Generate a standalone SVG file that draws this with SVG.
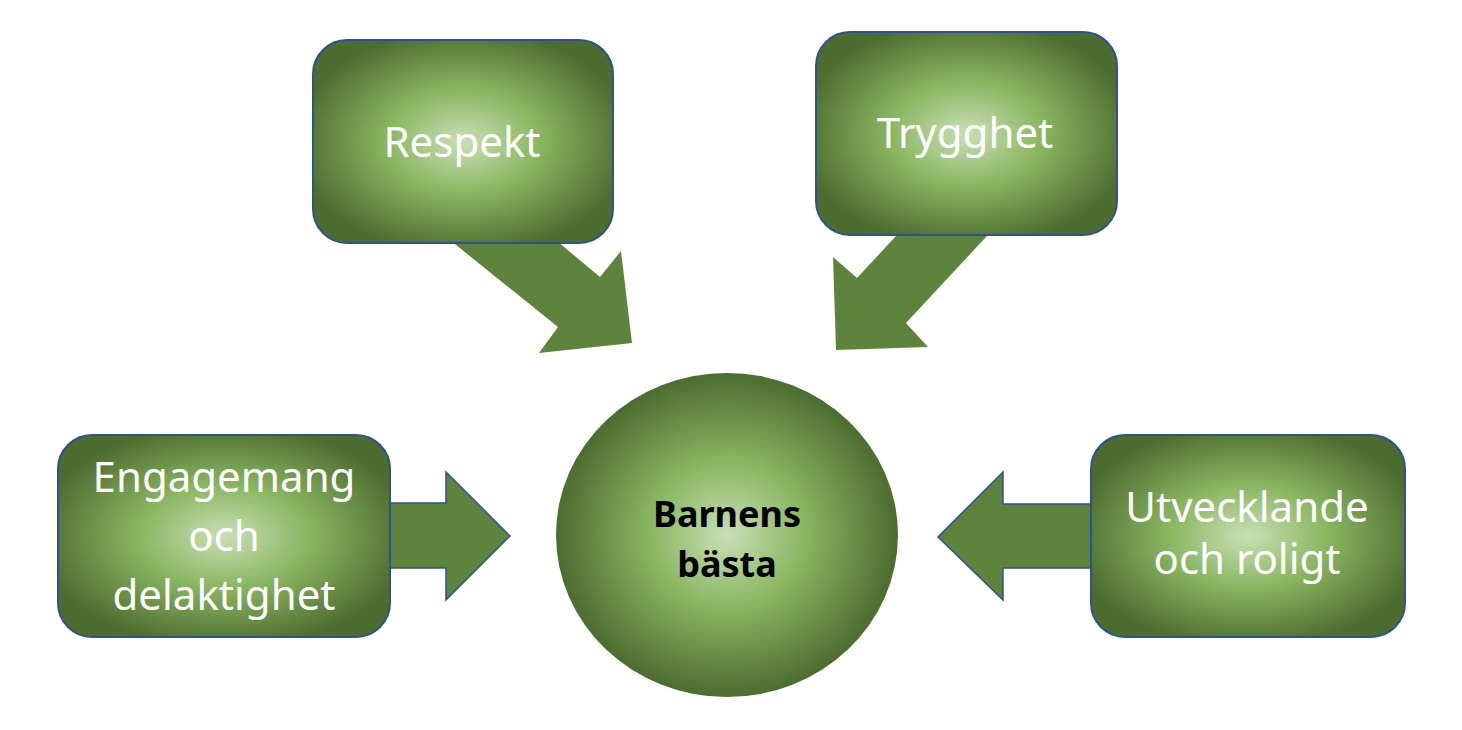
<svg xmlns="http://www.w3.org/2000/svg" width="1462" height="730" viewBox="0 0 1462 730">
  <defs>
    <radialGradient id="gBox" cx="0.5" cy="0.5" r="0.56">
      <stop offset="0" stop-color="#c9dfb6"/>
      <stop offset="0.45" stop-color="#8ab662"/>
      <stop offset="1" stop-color="#4d6c30"/>
    </radialGradient>
    <radialGradient id="gCirc" cx="0.5" cy="0.5" r="0.5">
      <stop offset="0" stop-color="#c9dfb6"/>
      <stop offset="0.45" stop-color="#8ab662"/>
      <stop offset="1" stop-color="#4d6c30"/>
    </radialGradient>
    <style>
      .box { fill: url(#gBox); stroke: #2f528f; stroke-width: 2; }
      .circ { fill: url(#gCirc); }
      .arr { fill: #5e833c; }
      .arrO { fill: #5e833c; stroke: #2f528f; stroke-width: 1.5; stroke-linejoin: miter; }
      .lbl { font-family: "Noto Sans", "Open Sans", sans-serif; font-size: 42px; fill: #ffffff; text-anchor: middle; }
      .ctr { font-family: "Noto Sans", "Open Sans", sans-serif; font-size: 36px; font-weight: bold; fill: #000000; text-anchor: middle; }
    </style>
  </defs>
  <rect width="1462" height="730" fill="#ffffff"/>

  <g id="connectors">
    <polygon class="arr" points="420,216 558,327 539,353 632,343 621,251 600,277 527,216"/>
    <polygon class="arr" points="922,208 857,278 833,257 836,350 928,347 906,323 1013,208"/>
    <polygon class="arrO" points="390,503 446,503 446,472 510,536 446,600 446,568 390,568"/>
    <polygon class="arrO" points="1091,504 1003,504 1003,472 938,537 1003,600 1003,568 1091,568"/>
  </g>

  <g id="node-respekt">
    <rect class="box" x="313" y="40" width="300" height="203" rx="34"/>
    <text class="lbl" x="462" y="157">Respekt</text>
  </g>

  <g id="node-trygghet">
    <rect class="box" x="816" y="32" width="301" height="203" rx="34"/>
    <text class="lbl" x="965" y="148">Trygghet</text>
  </g>

  <g id="node-engagemang">
    <rect class="box" x="58" y="435" width="332" height="202" rx="34"/>
    <text class="lbl" x="224" y="492">Engagemang</text>
    <text class="lbl" x="224" y="551">och</text>
    <text class="lbl" x="224" y="610">delaktighet</text>
  </g>

  <g id="node-utvecklande">
    <rect class="box" x="1091" y="435" width="314" height="202" rx="34"/>
    <text class="lbl" x="1247" y="522">Utvecklande</text>
    <text class="lbl" x="1247" y="574">och roligt</text>
  </g>

  <g id="node-barnens">
    <ellipse class="circ" cx="727" cy="535" rx="171" ry="162"/>
    <text class="ctr" x="727" y="527">Barnens</text>
    <text class="ctr" x="727" y="577">bästa</text>
  </g>
</svg>
